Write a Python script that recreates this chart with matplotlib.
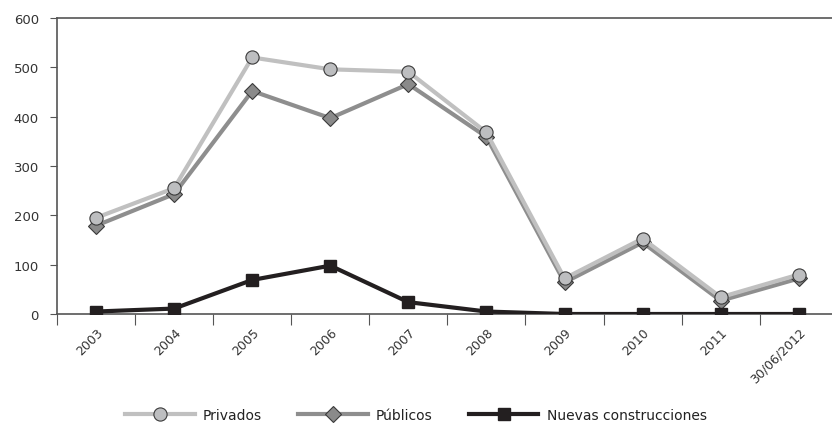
import matplotlib.pyplot as plt
import numpy as np

labels = ["2003", "2004", "2005", "2006", "2007", "2008", "2009", "2010", "2011", "30/06/2012"]
privados = [195, 255, 520, 496, 491, 368, 72, 153, 34, 80]
publicos = [179, 243, 452, 397, 466, 359, 64, 145, 27, 72]
nuevas = [5, 11, 69, 98, 24, 5, 0, 0, 0, 0]

plt.rcParams['font.family'] = ['DejaVu Sans']

fig = plt.figure(figsize=(8.32, 4.27), dpi=100)
ax = fig.add_axes([0.0685, 0.2623, 0.9385, 0.6932])

x = np.arange(len(labels))
ax.plot(x, privados, color="#c0c0c0", lw=3, marker="o", ms=9.5,
        mfc="#bdbec0", mec="#3a3a3a", mew=0.8, label="Privados", zorder=3)
ax.plot(x, publicos, color="#8e8e8e", lw=3, marker="D", ms=8.5,
        mfc="#8a8a8a", mec="#3a3a3a", mew=0.8, label="Públicos", zorder=2)
ax.plot(x, nuevas, color="#231f20", lw=3, marker="s", ms=9,
        mfc="#231f20", mec="#231f20", label="Nuevas construcciones", zorder=4)

ax.set_xlim(-0.5, len(labels) - 0.5)
ax.set_ylim(0, 600)
ax.set_yticks(range(0, 601, 100))
# major ticks sit between categories, labels go on the minor ticks
ax.set_xticks(np.arange(-0.5, len(labels), 1.0))
ax.set_xticklabels([])
ax.set_xticks(x, minor=True)
ax.set_xticklabels(labels, minor=True, rotation=45, ha="right",
                   rotation_mode="anchor", fontsize=9, color="#333333")
ax.tick_params(axis="x", which="major", direction="out", length=8, width=0.8, color="#555555")
ax.tick_params(axis="x", which="minor", length=0, pad=8)
ax.tick_params(axis="y", direction="out", length=5, width=0.8, color="#555555",
               labelsize=9.5, labelcolor="#333333", pad=8)

for side in ["left", "bottom", "top"]:
    ax.spines[side].set_color("#555555")
    ax.spines[side].set_linewidth(1.2)
ax.spines["right"].set_visible(False)

leg = fig.legend(loc="center", bbox_to_anchor=(0.5, 0.025), ncol=3, frameon=False,
                 fontsize=10, handlelength=5.0, columnspacing=2.6, handletextpad=0.6)
for t in leg.get_texts():
    t.set_color("#222222")

fig.savefig("out.png", dpi=100)
